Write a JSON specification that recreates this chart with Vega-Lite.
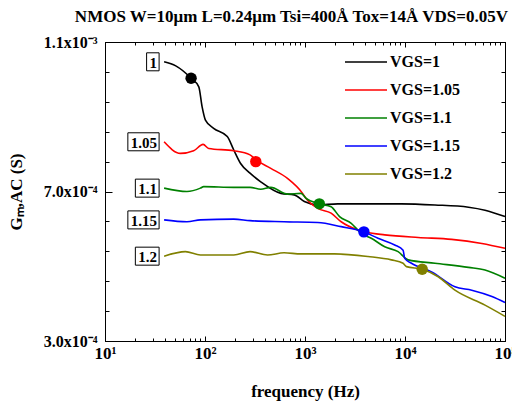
{
  "$schema": "https://vega.github.io/schema/vega-lite/v6.json",
  "width": 400,
  "height": 299,
  "autosize": "none",
  "padding": {"left": 105, "top": 42, "right": 7, "bottom": 62},
  "background": "white",
  "title": {
    "text": "NMOS W=10μm L=0.24μm Tsi=400Å Tox=14Å VDS=0.05V",
    "anchor": "end",
    "frame": "group",
    "font": "Liberation Serif",
    "fontSize": 17,
    "fontWeight": "bold",
    "color": "black",
    "offset": 8,
    "dx": 3
  },
  "config": {
    "view": {"stroke": "black", "strokeWidth": 1},
    "font": "Liberation Serif",
    "axis": {"domainColor": "black", "tickColor": "black", "labelColor": "black", "titleColor": "black", "grid": false}
  },
  "datasets": {
    "lines": [
      {"s": "1", "f": 39, "g": 0.001047},
      {"s": "1", "f": 51, "g": 0.001036},
      {"s": "1", "f": 72.6, "g": 0.001003},
      {"s": "1", "f": 86.7, "g": 0.00098},
      {"s": "1", "f": 93.5, "g": 0.000927},
      {"s": "1", "f": 101, "g": 0.000891},
      {"s": "1", "f": 122, "g": 0.000869},
      {"s": "1", "f": 167, "g": 0.000847},
      {"s": "1", "f": 194, "g": 0.000811},
      {"s": "1", "f": 227, "g": 0.000775},
      {"s": "1", "f": 282, "g": 0.000749},
      {"s": "1", "f": 361, "g": 0.000726},
      {"s": "1", "f": 574, "g": 0.000695},
      {"s": "1", "f": 781, "g": 0.000691},
      {"s": "1", "f": 985, "g": 0.000673},
      {"s": "1", "f": 1339, "g": 0.000664},
      {"s": "1", "f": 2128, "g": 0.000667},
      {"s": "1", "f": 4264, "g": 0.000667},
      {"s": "1", "f": 9230, "g": 0.000667},
      {"s": "1", "f": 19950, "g": 0.000664},
      {"s": "1", "f": 43150, "g": 0.000658},
      {"s": "1", "f": 63100, "g": 0.00065},
      {"s": "1", "f": 100000, "g": 0.000633},
      {"s": "1.05", "f": 39, "g": 0.000833},
      {"s": "1.05", "f": 56.8, "g": 0.000802},
      {"s": "1.05", "f": 77, "g": 0.000809},
      {"s": "1.05", "f": 95.7, "g": 0.000826},
      {"s": "1.05", "f": 109, "g": 0.000815},
      {"s": "1.05", "f": 194, "g": 0.000809},
      {"s": "1.05", "f": 282, "g": 0.000798},
      {"s": "1.05", "f": 322, "g": 0.000785},
      {"s": "1.05", "f": 455, "g": 0.000762},
      {"s": "1.05", "f": 668, "g": 0.000735},
      {"s": "1.05", "f": 946, "g": 0.000695},
      {"s": "1.05", "f": 1021, "g": 0.000682},
      {"s": "1.05", "f": 1339, "g": 0.000655},
      {"s": "1.05", "f": 1824, "g": 0.000642},
      {"s": "1.05", "f": 2300, "g": 0.000619},
      {"s": "1.05", "f": 3383, "g": 0.000597},
      {"s": "1.05", "f": 4100, "g": 0.000591},
      {"s": "1.05", "f": 6270, "g": 0.000584},
      {"s": "1.05", "f": 13550, "g": 0.000577},
      {"s": "1.05", "f": 29300, "g": 0.000572},
      {"s": "1.05", "f": 58700, "g": 0.000561},
      {"s": "1.05", "f": 100000, "g": 0.000548},
      {"s": "1.1", "f": 39, "g": 0.000709},
      {"s": "1.1", "f": 66, "g": 0.0007},
      {"s": "1.1", "f": 90, "g": 0.000709},
      {"s": "1.1", "f": 97, "g": 0.000713},
      {"s": "1.1", "f": 194, "g": 0.000711},
      {"s": "1.1", "f": 282, "g": 0.000711},
      {"s": "1.1", "f": 361, "g": 0.000706},
      {"s": "1.1", "f": 455, "g": 0.000711},
      {"s": "1.1", "f": 668, "g": 0.000693},
      {"s": "1.1", "f": 912, "g": 0.000695},
      {"s": "1.1", "f": 1021, "g": 0.000682},
      {"s": "1.1", "f": 1391, "g": 0.000667},
      {"s": "1.1", "f": 1824, "g": 0.000659},
      {"s": "1.1", "f": 2215, "g": 0.000633},
      {"s": "1.1", "f": 2900, "g": 0.000615},
      {"s": "1.1", "f": 3650, "g": 0.000588},
      {"s": "1.1", "f": 4600, "g": 0.000575},
      {"s": "1.1", "f": 6270, "g": 0.000552},
      {"s": "1.1", "f": 8530, "g": 0.000539},
      {"s": "1.1", "f": 10760, "g": 0.000517},
      {"s": "1.1", "f": 19950, "g": 0.000508},
      {"s": "1.1", "f": 43150, "g": 0.000497},
      {"s": "1.1", "f": 63100, "g": 0.00049},
      {"s": "1.1", "f": 100000, "g": 0.000468},
      {"s": "1.15", "f": 39, "g": 0.000624},
      {"s": "1.15", "f": 66, "g": 0.000619},
      {"s": "1.15", "f": 90, "g": 0.000624},
      {"s": "1.15", "f": 194, "g": 0.000626},
      {"s": "1.15", "f": 282, "g": 0.000622},
      {"s": "1.15", "f": 617, "g": 0.000619},
      {"s": "1.15", "f": 1339, "g": 0.000617},
      {"s": "1.15", "f": 2300, "g": 0.000606},
      {"s": "1.15", "f": 3880, "g": 0.000592},
      {"s": "1.15", "f": 5370, "g": 0.000575},
      {"s": "1.15", "f": 7890, "g": 0.000557},
      {"s": "1.15", "f": 9570, "g": 0.000543},
      {"s": "1.15", "f": 9940, "g": 0.000521},
      {"s": "1.15", "f": 11600, "g": 0.000508},
      {"s": "1.15", "f": 18450, "g": 0.000485},
      {"s": "1.15", "f": 31600, "g": 0.000445},
      {"s": "1.15", "f": 46500, "g": 0.000436},
      {"s": "1.15", "f": 74000, "g": 0.000419},
      {"s": "1.15", "f": 100000, "g": 0.000403},
      {"s": "1.2", "f": 39, "g": 0.000527},
      {"s": "1.2", "f": 63.7, "g": 0.000539},
      {"s": "1.2", "f": 90, "g": 0.00053},
      {"s": "1.2", "f": 194, "g": 0.00053},
      {"s": "1.2", "f": 282, "g": 0.000539},
      {"s": "1.2", "f": 422, "g": 0.00053},
      {"s": "1.2", "f": 617, "g": 0.000536},
      {"s": "1.2", "f": 912, "g": 0.000533},
      {"s": "1.2", "f": 1970, "g": 0.000533},
      {"s": "1.2", "f": 4264, "g": 0.000526},
      {"s": "1.2", "f": 7310, "g": 0.000517},
      {"s": "1.2", "f": 9570, "g": 0.000508},
      {"s": "1.2", "f": 10350, "g": 0.000499},
      {"s": "1.2", "f": 14860, "g": 0.000492},
      {"s": "1.2", "f": 21500, "g": 0.000472},
      {"s": "1.2", "f": 31600, "g": 0.000436},
      {"s": "1.2", "f": 63100, "g": 0.000396},
      {"s": "1.2", "f": 100000, "g": 0.000366}
    ],
    "dots": [
      {"s": "1", "f": 72.6, "g": 0.001003},
      {"s": "1.05", "f": 322, "g": 0.00078},
      {"s": "1.1", "f": 1391, "g": 0.000667},
      {"s": "1.15", "f": 3880, "g": 0.000592},
      {"s": "1.2", "f": 14860, "g": 0.000492}
    ]
  },
  "layer": [
    {
      "data": {"name": "lines"},
      "mark": {"type": "line", "strokeWidth": 1.6, "interpolate": "monotone"},
      "encoding": {
        "x": {
          "field": "f", "type": "quantitative",
          "scale": {"type": "log", "domain": [10, 100000], "nice": false},
          "axis": {
            "orient": "bottom",
            "title": "frequency (Hz)",
            "titleFont": "Liberation Serif", "titleFontSize": 17, "titleFontWeight": "bold",
            "titlePadding": 20,
            "values": [10,20,30,40,50,60,70,80,90,100,200,300,400,500,600,700,800,900,1000,2000,3000,4000,5000,6000,7000,8000,9000,10000,20000,30000,40000,50000,60000,70000,80000,90000,100000],
            "labelExpr": "datum.value == 10 ? '10¹' : datum.value == 100 ? '10²' : datum.value == 1000 ? '10³' : datum.value == 10000 ? '10⁴' : datum.value == 100000 ? '10⁵' : ''",
            "labelFont": "Liberation Serif", "labelFontSize": 17, "labelFontWeight": "bold",
            "labelFlush": false, "labelOverlap": false, "labelPadding": 9,
            "tickSize": {"condition": {"test": "datum.value == 10 || datum.value == 100 || datum.value == 1000 || datum.value == 10000 || datum.value == 100000", "value": -5}, "value": -3}
          }
        },
        "y": {
          "field": "g", "type": "quantitative",
          "scale": {"domain": [0.0003, 0.0011], "nice": false, "zero": false},
          "axis": {
            "orient": "left",
            "title": "Gₘ,AC (S)",
            "titleFont": "Liberation Serif", "titleFontSize": 17, "titleFontWeight": "bold",
            "titlePadding": 18,
            "values": [0.0003,0.00038,0.00046,0.00054,0.00062,0.0007,0.00078,0.00086,0.00094,0.00102,0.0011],
            "labelExpr": "abs(datum.value - 0.0003) < 1e-9 ? '3.0x10⁻⁴' : abs(datum.value - 0.0007) < 1e-9 ? '7.0x10⁻⁴' : abs(datum.value - 0.0011) < 1e-9 ? '1.1x10⁻³' : ''",
            "labelFont": "Liberation Serif", "labelFontSize": 16, "labelFontWeight": "bold",
            "labelFlush": false, "labelOverlap": false, "labelPadding": 15,
            "tickSize": {"condition": {"test": "abs(datum.value - 0.0003) < 1e-9 || abs(datum.value - 0.0007) < 1e-9 || abs(datum.value - 0.0011) < 1e-9", "value": -7}, "value": -4}
          }
        },
        "color": {
          "field": "s", "type": "nominal",
          "scale": {"domain": ["1", "1.05", "1.1", "1.15", "1.2"], "range": ["#000000", "#ff0000", "#008000", "#0000ff", "#808000"]},
          "legend": {
            "orient": "none", "legendX": 250, "legendY": 9, "title": null, "padding": 0,
            "symbolType": "M-2.1,0H2.1", "symbolSize": 400, "symbolStrokeWidth": 1.6,
            "labelFont": "Liberation Serif", "labelFontSize": 16, "labelFontWeight": "bold", "labelColor": "black",
            "labelOffset": 13, "rowPadding": 9,
            "labelExpr": "'VGS=' + datum.label"
          }
        }
      }
    },
    {
      "data": {"name": "dots"},
      "mark": {"type": "circle", "size": 130, "opacity": 1},
      "encoding": {
        "x": {
          "field": "f", "type": "quantitative",
          "axis": {
            "orient": "top", "title": null, "labels": false,
            "values": [10,20,30,40,50,60,70,80,90,100,200,300,400,500,600,700,800,900,1000,2000,3000,4000,5000,6000,7000,8000,9000,10000,20000,30000,40000,50000,60000,70000,80000,90000,100000],
            "tickSize": {"condition": {"test": "datum.value == 10 || datum.value == 100 || datum.value == 1000 || datum.value == 10000 || datum.value == 100000", "value": -5}, "value": -3}
          }
        },
        "y": {
          "field": "g", "type": "quantitative",
          "axis": {
            "orient": "right", "title": null, "labels": false,
            "values": [0.0003,0.00038,0.00046,0.00054,0.00062,0.0007,0.00078,0.00086,0.00094,0.00102,0.0011],
            "tickSize": {"condition": {"test": "abs(datum.value - 0.0003) < 1e-9 || abs(datum.value - 0.0007) < 1e-9 || abs(datum.value - 0.0011) < 1e-9", "value": -7}, "value": -4}
          }
        },
        "fill": {
          "field": "s", "type": "nominal",
          "scale": {"domain": ["1", "1.05", "1.1", "1.15", "1.2"], "range": ["#000000", "#ff0000", "#008000", "#0000ff", "#808000"]},
          "legend": null
        }
      }
    },
    {
      "data": {"name": "lines"},
      "transform": [{"filter": "datum.f == 39"}],
      "mark": {
        "type": "rect", "fill": "white", "stroke": "black", "strokeWidth": 1,
        "xOffset": -5,
        "x2Offset": {"expr": "-(10 + 7.5 * length(datum.s) - (indexof(datum.s, '.') >= 0 ? 3.75 : 0))"},
        "yOffset": -9, "y2Offset": 9
      },
      "encoding": {
        "x": {"field": "f", "type": "quantitative", "axis": null},
        "x2": {"field": "f"},
        "y": {"field": "g", "type": "quantitative", "axis": null},
        "y2": {"field": "g"}
      }
    },
    {
      "data": {"name": "lines"},
      "transform": [{"filter": "datum.f == 39"}],
      "mark": {"type": "text", "align": "right", "baseline": "middle", "dx": -7, "dy": 1, "font": "Liberation Serif", "fontSize": 15, "fontWeight": "bold", "color": "black"},
      "encoding": {
        "x": {"field": "f", "type": "quantitative", "axis": null},
        "y": {"field": "g", "type": "quantitative", "axis": null},
        "text": {"field": "s"}
      }
    },
    {
      "mark": {"type": "text", "text": "V", "align": "left", "baseline": "alphabetic", "font": "Liberation Serif", "fontSize": 16, "fontWeight": "bold", "color": "black"},
      "encoding": {
        "x": {"datum": 13.3, "type": "quantitative", "axis": null},
        "y": {"datum": 0.000351, "type": "quantitative", "axis": null}
      }
    },
    {
      "mark": {"type": "text", "text": "BG", "align": "left", "baseline": "alphabetic", "dx": 11, "dy": 8, "font": "Liberation Serif", "fontSize": 10, "fontWeight": "bold", "color": "black"},
      "encoding": {
        "x": {"datum": 13.3, "type": "quantitative", "axis": null},
        "y": {"datum": 0.000351, "type": "quantitative", "axis": null}
      }
    },
    {
      "mark": {"type": "text", "text": "=0", "align": "left", "baseline": "alphabetic", "dx": 26, "font": "Liberation Serif", "fontSize": 16, "fontWeight": "bold", "color": "black"},
      "encoding": {
        "x": {"datum": 13.3, "type": "quantitative", "axis": null},
        "y": {"datum": 0.000351, "type": "quantitative", "axis": null}
      }
    }
  ],
  "resolve": {"axis": {"x": "independent", "y": "independent"}}
}
